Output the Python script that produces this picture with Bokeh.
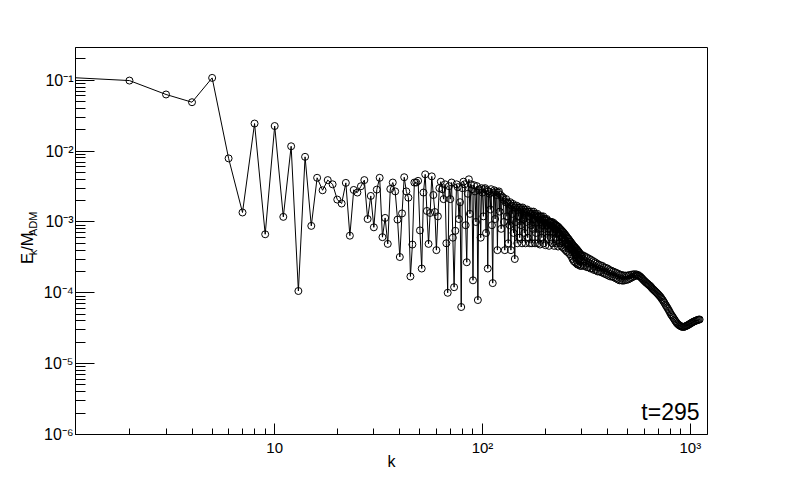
import math
from bokeh.plotting import figure
from bokeh.layouts import row
from bokeh.models import Range1d, Label, CustomJSTickFormatter
from bokeh.core.properties import value
from bokeh.embed import file_html
from bokeh.resources import INLINE

# ---------------- data ----------------
k_low = list(range(1, 131))
e_low = [
    0.110, 0.099, 0.063, 0.049, 0.108, 0.0079, 0.00136, 0.0245, 0.00067, 0.0226,
    0.00118, 0.0117, 0.000106, 0.0083, 0.00088, 0.0042, 0.0028, 0.0039, 0.0034, 0.00207,
    0.00182, 0.00356, 0.00064, 0.00283, 0.0026, 0.00319, 0.0039, 0.0011, 0.00233, 0.00084,
    0.00286, 0.0042, 0.00061, 0.00114, 0.00049, 0.00292, 0.0036, 0.0027, 0.00108, 0.00032,
    0.00132, 0.00428, 0.0027, 0.0022, 0.00017, 0.00048, 0.0036, 0.0036, 0.0038, 0.00076,
    0.00022, 0.0026, 0.0047, 0.00143, 0.00049, 0.00134, 0.0044, 0.0024, 0.00138, 0.0004,
    0.0012, 0.0030, 0.0037, 0.0029, 0.0021, 0.0034, 0.0005, 0.000100, 0.0032, 0.0021,
    0.0036, 0.0006, 0.00012, 0.00075, 0.0034, 0.0031, 0.0011, 0.0019, 0.000063, 0.0030,
    0.0037, 0.0034, 0.0009, 0.00027, 0.0025, 0.0040, 0.0013, 0.0034, 0.0029, 0.00015,
    0.0033, 0.0027, 0.0010, 0.0032, 0.000079, 0.0028, 0.0029, 0.0006, 0.0030, 0.0026,
    0.0012, 0.0029, 0.0030, 0.0007, 0.0028, 0.00022, 0.0027, 0.0025, 0.0015, 0.0029,
    0.0009, 0.000137, 0.0026, 0.0028, 0.0011, 0.0027, 0.0024, 0.0004, 0.0026, 0.0027,
    0.0014, 0.0024, 0.0008, 0.0023, 0.0021, 0.0022, 0.0010, 0.0004, 0.0019, 0.0021,
]

k_mid = list(range(131, 301))
e_mid = [
    0.0012, 0.0019, 0.0005, 0.0018, 0.0009, 0.0019, 0.0004, 0.0017, 0.0013, 0.0018,
    0.0007, 0.0017, 0.00030, 0.0016, 0.0010, 0.0017, 0.0005, 0.0016, 0.0012, 0.0016,
    0.0006, 0.0016, 0.0009, 0.0015, 0.0005, 0.0016, 0.0011, 0.0015, 0.0007, 0.0015,
    0.0005, 0.0014, 0.0010, 0.0015, 0.0006, 0.0014, 0.0012, 0.0014, 0.0005, 0.0013,
    0.0009, 0.0014, 0.0005, 0.0013, 0.0008, 0.0014, 0.0011, 0.0013, 0.0005, 0.0013,
    0.0007, 0.0012, 0.0010, 0.0013, 0.0005, 0.0012, 0.0008, 0.0012, 0.00048, 0.0012,
    0.0010, 0.0012, 0.0006, 0.0011, 0.0009, 0.0012, 0.0005, 0.0011, 0.0008, 0.0011,
    0.00047, 0.00105, 0.0009, 0.0011, 0.0006, 0.00105, 0.0008, 0.0010, 0.00046, 0.0010,
    0.0008, 0.0010, 0.0006, 0.00098, 0.0009, 0.0010, 0.0005, 0.00095, 0.0007, 0.00097,
    0.00046, 0.0009, 0.0008, 0.00092, 0.0006, 0.0009, 0.0005, 0.00088, 0.0007, 0.00086,
    0.00045, 0.00085, 0.0007, 0.00082, 0.0005, 0.0008, 0.00065, 0.00078, 0.00046, 0.00076,
    0.0006, 0.00074, 0.00044, 0.00072, 0.0006, 0.0007, 0.00042, 0.00068, 0.00055, 0.00066,
    0.0004, 0.00064, 0.0005, 0.00062, 0.00038, 0.0006, 0.0005, 0.00058, 0.00037, 0.00057,
    0.00048, 0.00055, 0.00035, 0.00053, 0.00044, 0.00052, 0.00033, 0.0005, 0.00042, 0.00049,
    0.0003, 0.00047, 0.0004, 0.00046, 0.00028, 0.00045, 0.00037, 0.00044, 0.00027, 0.00043,
    0.00035, 0.00042, 0.00026, 0.00041, 0.00033, 0.0004, 0.00025, 0.00039, 0.00032, 0.00038,
    0.00025, 0.00037, 0.0003, 0.00036, 0.00024, 0.00035, 0.00029, 0.00034, 0.00024, 0.00033,
]

high_points = [
    (303, 3.4e-4), (306, 2.4e-4), (309, 3.3e-4), (312, 2.4e-4), (315, 3.2e-4), (318, 2.3e-4),
    (321, 3.1e-4), (324, 2.3e-4), (328, 3.0e-4), (331, 2.2e-4), (334, 2.9e-4), (338, 2.2e-4),
    (341, 2.8e-4), (344, 2.1e-4), (348, 2.7e-4), (351, 2.1e-4), (355, 2.6e-4), (358, 2.0e-4),
    (362, 2.5e-4), (366, 2.0e-4), (369, 2.45e-4), (373, 1.95e-4), (377, 2.4e-4), (381, 1.9e-4),
    (384, 2.3e-4), (388, 1.85e-4), (392, 2.25e-4), (396, 1.8e-4), (400, 2.2e-4), (404, 1.75e-4),
    (408, 2.1e-4), (412, 1.7e-4), (417, 2.05e-4), (421, 1.7e-4), (425, 2.0e-4), (429, 1.65e-4),
    (434, 1.95e-4), (438, 1.6e-4), (442, 1.9e-4), (447, 1.55e-4), (451, 1.85e-4), (456, 1.5e-4),
    (460, 1.8e-4), (465, 1.5e-4), (470, 1.78e-4), (474, 1.48e-4), (479, 1.75e-4), (484, 1.5e-4),
    (489, 1.75e-4), (494, 1.52e-4), (499, 1.75e-4), (504, 1.55e-4), (509, 1.78e-4), (514, 1.6e-4),
    (519, 1.8e-4), (524, 1.65e-4), (530, 1.82e-4), (535, 1.7e-4), (540, 1.83e-4), (546, 1.74e-4),
    (551, 1.82e-4), (557, 1.75e-4), (562, 1.78e-4), (568, 1.72e-4), (574, 1.7e-4), (580, 1.64e-4),
    (585, 1.6e-4), (591, 1.55e-4), (597, 1.5e-4), (603, 1.46e-4), (609, 1.42e-4), (615, 1.38e-4),
    (622, 1.35e-4), (628, 1.31e-4), (634, 1.28e-4), (641, 1.25e-4), (647, 1.21e-4), (653, 1.17e-4),
    (660, 1.13e-4), (667, 1.1e-4), (673, 1.07e-4), (680, 1.04e-4), (687, 1.01e-4), (694, 9.8e-5),
    (701, 9.5e-5), (708, 9.2e-5), (715, 8.9e-5), (722, 8.6e-5), (729, 8.2e-5), (737, 7.9e-5),
    (744, 7.5e-5), (751, 7.2e-5), (759, 6.8e-5), (767, 6.5e-5), (774, 6.2e-5), (782, 5.9e-5),
    (790, 5.6e-5), (798, 5.3e-5), (806, 5.0e-5), (814, 4.8e-5), (822, 4.6e-5), (830, 4.4e-5),
    (839, 4.2e-5), (847, 4.0e-5), (856, 3.85e-5), (864, 3.7e-5), (873, 3.6e-5), (882, 3.5e-5),
    (890, 3.45e-5), (899, 3.38e-5), (908, 3.33e-5), (918, 3.3e-5), (927, 3.3e-5), (936, 3.32e-5),
    (945, 3.35e-5), (955, 3.4e-5), (964, 3.45e-5), (974, 3.5e-5), (984, 3.57e-5), (994, 3.63e-5),
    (1004, 3.7e-5), (1014, 3.77e-5), (1024, 3.83e-5), (1034, 3.9e-5), (1045, 3.95e-5),
    (1055, 4.0e-5), (1066, 4.05e-5), (1076, 4.1e-5), (1087, 4.15e-5), (1098, 4.18e-5),
    (1109, 4.2e-5),
]
k_high = [kv for kv, _ in high_points]
e_high = [ev for _, ev in high_points]

x_tick_values = [10, 100, 1000]
x_tick_labels = ["10", "10\u00b2", "10\u00b3"]
y_tick_values = [1e-6, 1e-5, 1e-4, 1e-3, 1e-2, 1e-1]
y_tick_labels = ["10\u207b\u2076", "10\u207b\u2075", "10\u207b\u2074",
                 "10\u207b\u00b3", "10\u207b\u00b2", "10\u207b\u00b9"]

x_title = "k"
y_title_main = ["E", "/M"]
y_title_sub = ["k", "ADM"]
annotation = "t=295"

k_all = k_low + k_mid + k_high
e_all = e_low + e_mid + e_high

# ---------------- layout constants ----------------
FONT = "Liberation Sans"
H = 483
STRIP_W = 40
FRAME_W, FRAME_H = 632, 387
LEFT, TOP, BOTTOM = 35, 47, 49
RIGHT = 789 - STRIP_W - LEFT - FRAME_W - 3

# ---------------- main figure ----------------
p = figure(width=LEFT + FRAME_W + RIGHT, height=H, x_axis_type="log", y_axis_type="log",
           x_range=Range1d(1.1, 1210), y_range=Range1d(1e-6, 0.29),
           output_backend="svg", toolbar_location=None,
           min_border_left=LEFT, min_border_right=RIGHT,
           min_border_top=TOP, min_border_bottom=BOTTOM)
p.frame_width = FRAME_W
p.frame_height = FRAME_H
p.background_fill_color = "white"
p.border_fill_color = "white"
p.outline_line_color = "black"
p.outline_line_width = 1
p.xgrid.visible = False
p.ygrid.visible = False

p.line(k_all, e_all, line_color="black", line_width=1)
p.scatter(k_all, e_all, marker="circle", size=7, fill_color=None,
          line_color="black", line_width=1)

fmt_js = """
const lt = Math.log10(tick);
for (let i = 0; i < vals.length; i++) {
  if (Math.abs(Math.log10(vals[i]) - lt) < 1e-6) return labs[i];
}
return "";
"""
p.xaxis.formatter = CustomJSTickFormatter(args=dict(vals=x_tick_values, labs=x_tick_labels), code=fmt_js)
p.yaxis.formatter = CustomJSTickFormatter(args=dict(vals=y_tick_values, labs=y_tick_labels), code=fmt_js)

for ax in (p.xaxis[0], p.yaxis[0]):
    ax.axis_line_color = "black"
    ax.major_tick_line_color = "black"
    ax.minor_tick_line_color = "black"
    ax.major_tick_out = 0
    ax.minor_tick_out = 0
    ax.major_label_text_font = FONT
    ax.major_label_text_color = "black"

p.xaxis.major_label_standoff = 4
p.yaxis.major_label_standoff = 2
p.xaxis.major_tick_in = 11
p.xaxis.minor_tick_in = 6
p.yaxis.major_tick_in = 19
p.yaxis.minor_tick_in = 10
p.xaxis.major_label_text_font_size = "15px"
p.yaxis.major_label_text_font_size = "16px"

p.xaxis.axis_label = x_title
p.xaxis.axis_label_text_font = FONT
p.xaxis.axis_label_text_font_style = "normal"
p.xaxis.axis_label_text_font_size = "16px"
p.xaxis.axis_label_text_color = "black"
p.xaxis.axis_label_standoff = -6

p.add_layout(Label(x=624, y=23, x_units="screen", y_units="screen", text=annotation,
                   text_font=FONT, text_font_size="23px", text_color="black",
                   text_align="right", text_baseline="alphabetic"))

# ---------------- left strip holding the y title ----------------
strip = figure(width=STRIP_W, height=H, x_range=Range1d(0, STRIP_W), y_range=Range1d(0, H),
               output_backend="svg", toolbar_location=None,
               x_axis_location=None, y_axis_location=None, min_border=0)
strip.outline_line_color = None
strip.background_fill_color = "white"
strip.border_fill_color = "white"
strip.xgrid.visible = False
strip.ygrid.visible = False

F, S = 16.5, 11
w_main = [0.667 * F, (0.278 + 0.833) * F]
w_sub = [0.5 * S, (0.667 + 0.722 + 0.833) * S]
total = sum(w_main) + sum(w_sub)
y0 = (H - TOP - FRAME_H / 2) - total / 2
ys_main = [y0, y0 + w_main[0] + w_sub[0]]
ys_sub = [y0 + w_main[0], y0 + w_main[0] + w_sub[0] + w_main[1]]
bx = 26.5
strip.text(x=[bx, bx], y=ys_main, text=y_title_main, angle=math.pi / 2,
           text_font=value(FONT), text_font_size=value(f"{F}px"), text_color="black",
           text_align="left", text_baseline="alphabetic")
strip.text(x=[bx + 6, bx + 6], y=ys_sub, text=y_title_sub, angle=math.pi / 2,
           text_font=value(FONT), text_font_size=value(f"{S}px"), text_color="black",
           text_align="left", text_baseline="alphabetic")

layout = row(strip, p, spacing=0)
open("out.html", "w").write(file_html(layout, INLINE))
